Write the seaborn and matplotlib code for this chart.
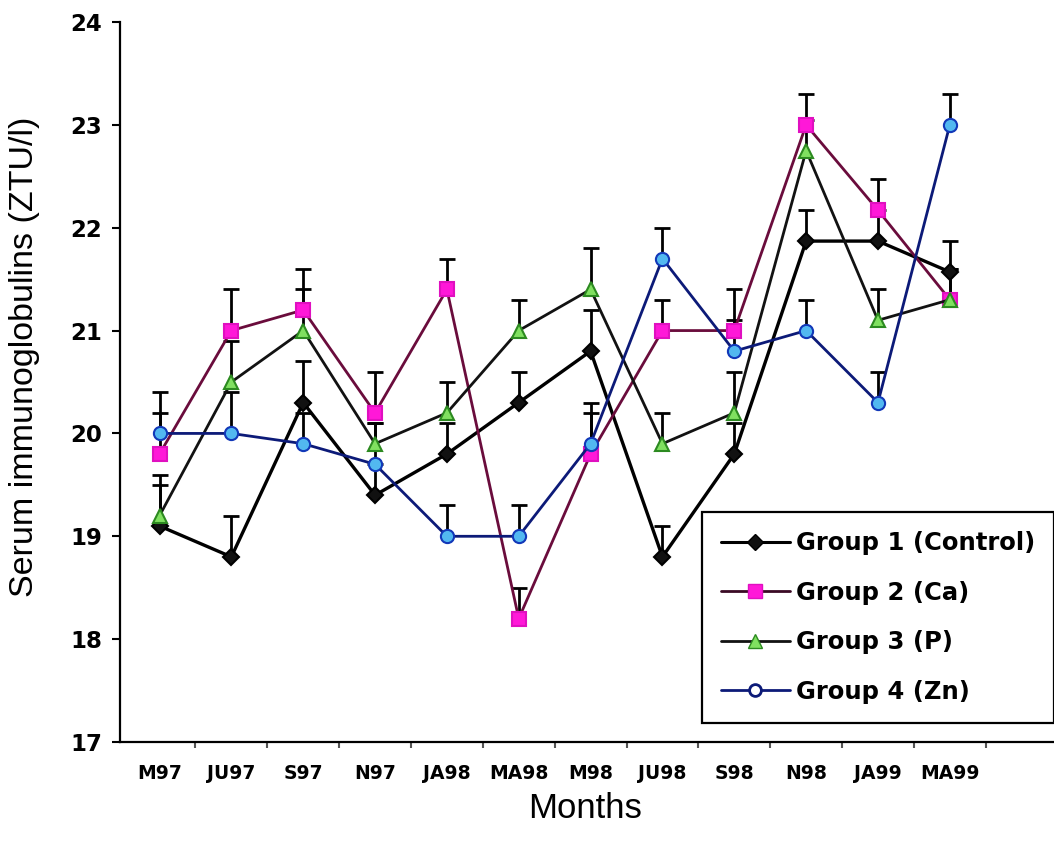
import numpy as np
import matplotlib
matplotlib.use("Agg")
import matplotlib.pyplot as plt
from matplotlib.lines import Line2D
import seaborn as sns

# ---- data ----
months = ["M97", "JU97", "S97", "N97", "JA98", "MA98", "M98", "JU98", "S98", "N98", "JA99", "MA99"]

g1 = [19.1, 18.8, 20.3, 19.4, 19.8, 20.3, 20.8, 18.8, 19.8, 21.87, 21.87, 21.57]
g1_err = [0.4, 0.4, 0.4, 0.3, 0.3, 0.3, 0.4, 0.3, 0.3, 0.3, 0.3, 0.3]

g2 = [19.8, 21.0, 21.2, 20.2, 21.4, 18.2, 19.8, 21.0, 21.0, 23.0, 22.17, 21.3]
g2_err = [0.4, 0.4, 0.4, 0.4, 0.3, 0.3, 0.4, 0.3, 0.4, 0.3, 0.3, 0.3]

g3 = [19.2, 20.5, 21.0, 19.9, 20.2, 21.0, 21.4, 19.9, 20.2, 22.75, 21.1, 21.3]
g3_err = [0.4, 0.4, 0.4, 0.2, 0.3, 0.3, 0.4, 0.3, 0.4, 0.3, 0.3, 0.3]

g4 = [20.0, 20.0, 19.9, 19.7, 19.0, 19.0, 19.9, 21.7, 20.8, 21.0, 20.3, 23.0]
g4_err = [0.4, 0.4, 0.3, 0.4, 0.3, 0.3, 0.4, 0.3, 0.3, 0.3, 0.3, 0.3]

labels = ["Group 1 (Control)", "Group 2 (Ca)", "Group 3 (P)", "Group 4 (Zn)"]
y_ticks = [17, 18, 19, 20, 21, 22, 23, 24]

# ---- styling ----
sns.set_theme(style="white")
plt.rcParams["font.family"] = ["DejaVu Sans"]
plt.rcParams["text.color"] = "black"
plt.rcParams["axes.labelcolor"] = "black"

fig = plt.figure(figsize=(10.54, 8.55), dpi=100)
ax = fig.add_axes([120 / 1054, 113 / 855, 934 / 1054, 720 / 855])

x = np.arange(len(months))

styles = [
    dict(color="#000000", lw=2.4, marker="D", ms=8, mfc="#111111", mec="#000000"),
    dict(color="#6a0c3c", lw=2.0, marker="s", ms=10, mfc="#ff18d8", mec="#e010c0"),
    dict(color="#121212", lw=2.0, marker="^", ms=10, mfc="#80e060", mec="#2c8a20"),
    dict(color="#0c1a78", lw=2.0, marker="o", ms=9.5, mfc="#52b8f0", mec="#1238b8"),
]
series = [(g1, g1_err), (g2, g2_err), (g3, g3_err), (g4, g4_err)]

for (vals, err), st in zip(series, styles):
    cont = ax.errorbar(x, vals, yerr=[np.zeros(len(err)), err], fmt="none",
                       ecolor="black", elinewidth=2.0, capsize=6, capthick=2.0, zorder=2)
    caps = cont[1]
    if len(caps) == 2:
        caps[0].set_visible(False)  # only the upper half of the bar is drawn
for (vals, err), st in zip(series, styles):
    sns.lineplot(x=x, y=vals, ax=ax, color=st["color"], linewidth=st["lw"],
                 marker=st["marker"], markersize=st["ms"],
                 markerfacecolor=st["mfc"], markeredgecolor=st["mec"],
                 markeredgewidth=1.5, zorder=3, legend=False)

ax.set_xlim(-0.55, 12.45)
ax.set_ylim(17, 24)
ax.set_yticks(y_ticks)
ax.set_yticklabels([str(v) for v in y_ticks], fontsize=16.5, fontweight="bold")
ax.set_xticks(x)
ax.set_xticklabels(months, fontsize=13.5, fontweight="bold")
ax.set_xticks(np.arange(0.5, 12, 1), minor=True)
ax.tick_params(axis="x", which="major", length=0, pad=16, colors="black")
ax.tick_params(axis="x", which="minor", bottom=True, length=4, width=1.5,
               direction="out", color="#555555")
ax.tick_params(axis="y", which="major", left=True, length=6, width=1.5,
               direction="out", pad=7, colors="black")

for side in ["top", "right"]:
    ax.spines[side].set_visible(False)
for side in ["left", "bottom"]:
    ax.spines[side].set_color("black")
    ax.spines[side].set_linewidth(1.6)
ax.grid(False)

ax.set_xlabel("Months", fontsize=25, family=["Liberation Sans", "DejaVu Sans"])
ax.xaxis.set_label_coords((585 - 120) / 934, (742 - 808) / 720)
ax.xaxis.label.set_va("center")
ax.set_ylabel("Serum immunoglobulins (ZTU/l)", fontsize=24.5,
              family=["Liberation Sans", "DejaVu Sans"])
ax.yaxis.set_label_coords((25 - 120) / 934, (742 - 357) / 720)
ax.yaxis.label.set_va("center")

handles = [
    Line2D([], [], color="#000000", lw=2.2, marker="D", ms=8, mfc="#111111", mec="#000000"),
    Line2D([], [], color="#3a0a25", lw=2.0, marker="s", ms=10, mfc="#ff18d8", mec="#e010c0"),
    Line2D([], [], color="#121212", lw=2.0, marker="^", ms=10, mfc="#80e060", mec="#2c8a20"),
    Line2D([], [], color="#0c1a78", lw=2.0, marker="o", ms=8.5, mfc="white", mec="#0c1a78", mew=2),
]
leg = ax.legend(handles, labels, loc="upper left",
                bbox_to_anchor=(702 / 1054, 1 - 512 / 855), bbox_transform=fig.transFigure,
                borderaxespad=0, prop=dict(weight="bold", size=17.5),
                handlelength=2.8, handletextpad=0.25, labelspacing=1.05,
                borderpad=0.8, fancybox=False, framealpha=1, edgecolor="black")
leg.get_frame().set_linewidth(1.6)
for t in leg.get_texts():
    t.set_color("black")

fig.savefig("out.png", dpi=100)
